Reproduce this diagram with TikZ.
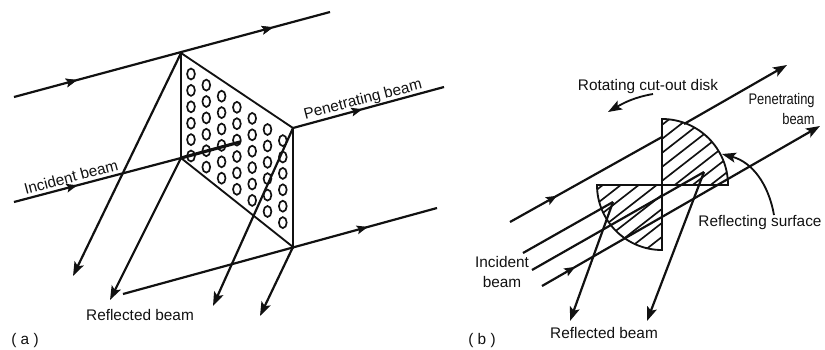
\documentclass[tikz,border=0pt]{standalone}
\usepackage{fontspec}
\setmainfont{Liberation Sans}
\usepackage{xcolor}
\usetikzlibrary{arrows.meta,decorations.markings}
\definecolor{ink}{HTML}{111111}
\tikzset{
  beam/.style={draw=ink,line width=1.25pt},
  beamarr/.style={draw=ink,line width=1.25pt,-{Stealth[length=2.8mm,width=2mm,inset=0.6mm]}},
  midarr/.style={postaction={decorate},
                 decoration={markings,mark=at position #1 with
                 {\arrow[ink]{Stealth[length=2.2mm,width=1.7mm,inset=0.4mm]}}}},
  thinline/.style={draw=ink,line width=1.05pt},
  hole/.style={draw=ink,line width=0.95pt},
  hatchline/.style={draw=ink,line width=0.95pt},
  lab/.style={text=ink,font=\fontsize{8.75}{11}\selectfont,inner sep=0pt,align=center}
}
\begin{document}
\begin{tikzpicture}[x=0.02cm,y=-0.02cm]
    \path[use as bounding box] (0,0) rectangle (825,349);

    \coordinate (ptl) at (181,53);
    \coordinate (pbl) at (181,158);
    \coordinate (ptr) at (293,128);
    \coordinate (pbr) at (293,247);
    \coordinate (topstart) at (14,97);
    \coordinate (topend) at (330,12);
    \coordinate (incstart) at (14,202);
    \coordinate (incend) at (240,142);
    \coordinate (penend) at (444,87);
    \coordinate (botstart) at (123,294);
    \coordinate (botend) at (437,208);
    \coordinate (refa) at (73,276);
    \coordinate (refb) at (110,300);
    \coordinate (refc) at (213,306);
    \coordinate (refd) at (260,316);

    \foreach \c in {0,...,6}
      \foreach \r in {0,...,5}
        \draw[hole] ({191+15.3*\c},{74+11.1*\c+16.4*\r}) ellipse [x radius=3.9,y radius=5.5];

    \draw[thinline] (ptl) -- (ptr) -- (pbr) -- (pbl) -- cycle;
    \draw[beam,midarr=0.2,midarr=0.82] (topstart) -- (topend);
    \draw[beam,midarr=0.38] (incstart) -- (pbl);
    \draw[draw=ink,line width=1.8pt,line cap=round] (pbl) -- (incend);
    \draw[beam,midarr=0.46] (ptr) -- (penend);
    \draw[beam,midarr=0.78] (botstart) -- (botend);
    \draw[beamarr] (ptl) -- (refa);
    \draw[beamarr] (pbl) -- (refb);
    \draw[beamarr] (ptr) -- (refc);
    \draw[beamarr] (pbr) -- (refd);

    \node[lab,rotate=15] (inclab) at (71,177) {Incident beam};
    \node[lab,rotate=14.5] (penlab) at (363,100) {Penetrating beam};
    \node[lab] (reflab) at (140,315) {Reflected beam};
    \node[lab] (alab) at (25,341) {( a )};

    \coordinate (disk) at (662,185);
    \coordinate (disktop) at (662,119);
    \coordinate (diskleft) at (597,185);
    \coordinate (topbstart) at (510,222);
    \coordinate (topbin) at (662,137);
    \coordinate (topbout) at (684,124);
    \coordinate (topbend) at (787,65);
    \coordinate (inca) at (523,253);
    \coordinate (hita) at (613,202);
    \coordinate (incb) at (532,270);
    \coordinate (hitb) at (704,172);
    \coordinate (incc) at (542,286);
    \coordinate (penb) at (820,126);
    \coordinate (refe) at (570,321);
    \coordinate (reff) at (647,321);

    \begin{scope}
      \clip (disk) -- (disktop) arc[start angle=-90,end angle=0,radius=66] -- cycle
            (disk) -- (diskleft) arc[start angle=180,end angle=90,radius=65] -- cycle;
      \foreach \k in {0,...,13}
        \draw[hatchline] (590,{181+14*\k}) -- (735,{68+14*\k});
    \end{scope}
    \draw[thinline] (disk) -- (disktop) arc[start angle=-90,end angle=0,radius=66] -- cycle;
    \draw[thinline] (disk) -- (diskleft) arc[start angle=180,end angle=90,radius=65] -- cycle;

    \draw[beam,midarr=0.31] (topbstart) -- (topbin);
    \draw[beamarr] (topbout) -- (topbend);
    \draw[beam] (inca) -- (hita);
    \draw[beam] (incb) -- (hitb);
    \draw[beamarr,midarr=0.12] (incc) -- (penb);
    \draw[beamarr] (hita) -- (refe);
    \draw[beamarr] (hitb) -- (reff);

    \node[lab] (rotlab) at (648,87) {Rotating cut-out disk};
    \node[lab,align=right,anchor=east] (penblab) at (815,109)
      {\scalebox{0.84}[1]{Penetrating}\\\scalebox{0.84}[1]{beam}};
    \node[lab] (surflab) at (760,223) {Reflecting surface};
    \node[lab] (incblab) at (502,272) {Incident\\beam};
    \node[lab] (refblab) at (604,333) {Reflected beam};
    \node[lab] (blab) at (482,341) {( b )};

    \coordinate (rotstart) at (653,94);
    \coordinate (rotend) at (608,112);
    \coordinate (surfstart) at (774,215);
    \coordinate (surfend) at (722,154);
    \draw[thinline,-{Stealth[length=2.8mm,width=2mm,inset=0.6mm]}] (rotstart) to[out=190,in=30] (rotend);
    \draw[thinline,-{Stealth[length=2.8mm,width=2mm,inset=0.6mm]}] (surfstart) to[out=100,in=-15] (surfend);
  \end{tikzpicture}
\end{document}
